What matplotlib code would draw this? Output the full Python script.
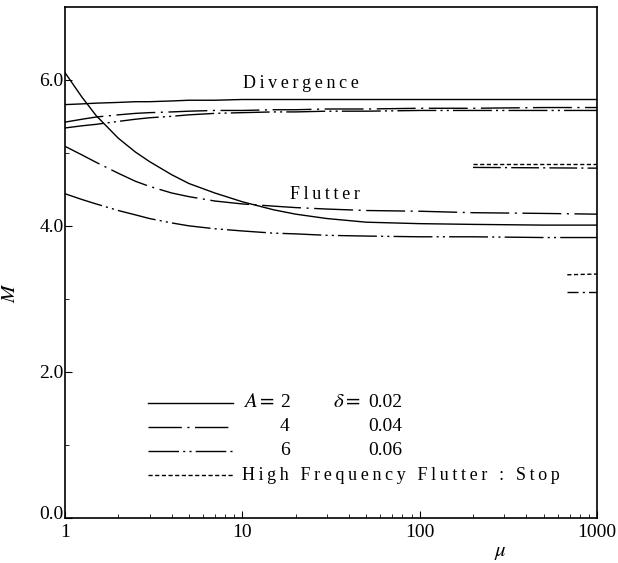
import matplotlib
matplotlib.use("Agg")
import matplotlib.pyplot as plt
import matplotlib.transforms as mtransforms
from matplotlib.ticker import FixedLocator, NullFormatter, LogLocator

plt.rcParams['font.family'] = ['Liberation Serif', 'DejaVu Serif']
plt.rcParams['mathtext.fontset'] = 'stix'

# mass ratio grid
mu = [1, 1.25, 1.5, 2, 2.5, 3, 4, 5, 7, 10, 15, 20, 30, 50, 100, 200, 500, 1000]

# divergence boundaries
div_a2 = [5.66, 5.67, 5.68, 5.69, 5.70, 5.70, 5.71, 5.72, 5.72, 5.73, 5.73, 5.73,
          5.73, 5.73, 5.73, 5.73, 5.73, 5.73]
div_a4 = [5.42, 5.46, 5.49, 5.52, 5.54, 5.55, 5.56, 5.57, 5.58, 5.58, 5.59, 5.59,
          5.60, 5.60, 5.61, 5.61, 5.62, 5.62]
div_a6 = [5.34, 5.37, 5.39, 5.43, 5.46, 5.48, 5.50, 5.52, 5.54, 5.55, 5.56, 5.56,
          5.57, 5.57, 5.58, 5.58, 5.58, 5.58]

# flutter boundaries
flu_a2 = [6.10, 5.76, 5.51, 5.20, 5.01, 4.88, 4.70, 4.58, 4.45, 4.33, 4.22, 4.16,
          4.10, 4.05, 4.03, 4.02, 4.01, 4.01]
flu_a4 = [5.09, 4.97, 4.87, 4.72, 4.61, 4.54, 4.45, 4.40, 4.34, 4.30, 4.27, 4.25,
          4.23, 4.21, 4.20, 4.18, 4.17, 4.16]
flu_a6 = [4.44, 4.36, 4.30, 4.21, 4.15, 4.10, 4.04, 4.00, 3.96, 3.93, 3.90, 3.89,
          3.87, 3.86, 3.85, 3.85, 3.84, 3.84]

# high frequency flutter (start / stop)
hf_mu_a4 = [200, 1000]
hf_start_a4 = [4.80, 4.79]
hf_stop_a4 = [4.85, 4.85]
hf_mu_a6 = [680, 1000]
hf_start_a6 = [3.10, 3.10]
hf_stop_a6 = [3.33, 3.34]

ls_a2 = '-'
ls_a4 = (0, (28, 4, 1.5, 4))
ls_a6 = (0, (28, 3, 1.5, 3, 1.5, 3))
ls_hf = (0, (3, 1.8))


def spaced(s):
    # wide letter spacing like the original typesetting
    return '\u2009'.join(s)


fig = plt.figure(figsize=(6.18, 5.63), dpi=100)
ax = fig.add_axes([0.105, 0.080, 0.861, 0.908])

lw = 1.0
ax.plot(mu, div_a2, color='black', lw=lw, ls=ls_a2)
ax.plot(mu, div_a4, color='black', lw=lw, ls=ls_a4)
ax.plot(mu, div_a6, color='black', lw=lw, ls=ls_a6)
ax.plot(mu, flu_a2, color='black', lw=lw, ls=ls_a2)
ax.plot(mu, flu_a4, color='black', lw=lw, ls=ls_a4)
ax.plot(mu, flu_a6, color='black', lw=lw, ls=ls_a6)

ax.plot(hf_mu_a4, hf_stop_a4, color='black', lw=lw, ls=ls_hf)
ax.plot(hf_mu_a4, hf_start_a4, color='black', lw=lw, ls=(0, (20, 3, 1.5, 3)))
ax.plot(hf_mu_a6, hf_stop_a6, color='black', lw=lw, ls=ls_hf)
ax.plot(hf_mu_a6, hf_start_a6, color='black', lw=lw, ls=(0, (8, 3, 1.5, 3)))

ax.set_xscale('log')
ax.set_xlim(1, 1000)
ax.set_ylim(0, 7)

ax.xaxis.set_major_locator(FixedLocator([1, 10, 100, 1000]))
ax.set_xticklabels(['1', '10', '100', '1000'])
ax.xaxis.set_minor_locator(LogLocator(base=10, subs=range(2, 10)))
ax.xaxis.set_minor_formatter(NullFormatter())
ax.set_yticks([0, 2, 4, 6])
ax.set_yticklabels(['0.0', '2.0', '4.0', '6.0'])
ax.set_yticks([1, 3, 5], minor=True)
ax.tick_params(which='both', direction='in', top=False, right=False, labelsize=14)
ax.tick_params(axis='y', pad=1)
ax.tick_params(axis='x', pad=4)
ax.tick_params(which='major', length=5)
ax.tick_params(which='minor', length=3)
for s in ax.spines.values():
    s.set_linewidth(1.2)

# lift "0.0" a little so it clears the "1" below it
lift = mtransforms.ScaledTranslation(0, 4 / 72, fig.dpi_scale_trans)
zero_label = ax.yaxis.get_major_ticks()[0].label1
zero_label.set_transform(zero_label.get_transform() + lift)

ax.set_xlabel(r'$\mu$', fontsize=15)
ax.xaxis.label.set_va('center')
ax.xaxis.set_label_coords(0.818, -0.068)
ax.set_ylabel(r'$M$', fontsize=15)
ax.yaxis.set_label_coords(-0.085, 0.44)

ax.text(0.335, 0.85, spaced('Divergence'), transform=ax.transAxes, fontsize=13,
        va='center')
ax.text(0.423, 0.632, spaced('Flutter'), transform=ax.transAxes, fontsize=13,
        va='center')

# key
rows = [0.225, 0.178, 0.131, 0.084]
key_styles = [ls_a2, (0, (24, 4, 1.5, 4)), (0, (22, 3, 1.5, 3, 1.5, 3)), ls_hf]
for y, ls in zip(rows, key_styles):
    ax.plot([0.156, 0.316], [y, y], transform=ax.transAxes, color='black', lw=lw, ls=ls)
ax.text(0.335, rows[0], r'$A=$', transform=ax.transAxes, fontsize=15, va='center')
for y, a in zip(rows[:3], ['2', '4', '6']):
    ax.text(0.413, y, a, transform=ax.transAxes, fontsize=14, va='center', ha='center')
ax.text(0.503, rows[0], r'$\delta=$', transform=ax.transAxes, fontsize=15, va='center')
for y, d in zip(rows[:3], ['0.02', '0.04', '0.06']):
    ax.text(0.570, y, d, transform=ax.transAxes, fontsize=14, va='center')
ax.text(0.333, rows[3], spaced('High Frequency Flutter : Stop'), transform=ax.transAxes,
        fontsize=13, va='center')

fig.savefig('out.png', dpi=100)
